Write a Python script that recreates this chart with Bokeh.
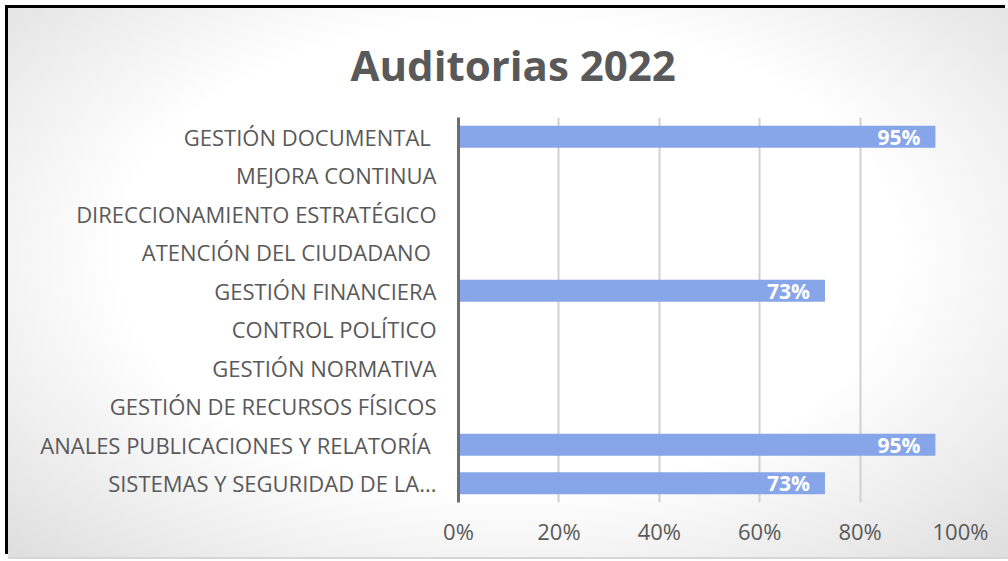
from bokeh.plotting import figure
from bokeh.models import (FactorRange, Range1d, ColumnDataSource, LabelSet, Title,
                          NumeralTickFormatter, FixedTicker)
from bokeh.core.properties import value
from bokeh.embed import file_html
from bokeh.resources import INLINE

# ---- data (top-to-bottom order as shown) ----
categories = [
    "GESTIÓN DOCUMENTAL ",
    "MEJORA CONTINUA",
    "DIRECCIONAMIENTO ESTRATÉGICO",
    "ATENCIÓN DEL CIUDADANO ",
    "GESTIÓN FINANCIERA",
    "CONTROL POLÍTICO",
    "GESTIÓN NORMATIVA",
    "GESTIÓN DE RECURSOS FÍSICOS",
    "ANALES PUBLICACIONES Y RELATORÍA ",
    "SISTEMAS Y SEGURIDAD DE LA...",
]
values = [0.95, 0, 0, 0, 0.73, 0, 0, 0, 0.95, 0.73]
x_ticks = [0, 0.2, 0.4, 0.6, 0.8, 1.0]
title_text = "Auditorias 2022"

FONT = "Open Sans"
GRAY = "#595959"

W, H = 1000, 549
ML, MR, MT, MB = 450, 48, 108, 55

factors = list(reversed(categories))

p = figure(
    width=W, height=H,
    y_range=FactorRange(*factors, range_padding=0),
    x_range=Range1d(0, 1.0),
    output_backend="svg", toolbar_location=None,
    min_border_left=ML, min_border_right=MR,
    min_border_top=MT, min_border_bottom=MB,
)
p.styles = {
    "margin-left": "8px",
    "margin-top": "8px",
    "box-shadow": "-3px -3px 0 0 #000000, 0 2px 0 0 #d6d6d6",
    "background": "radial-gradient(ellipse at 50% 45%, #ffffff 55%, #dedede 100%)",
}
p.border_fill_color = None
p.background_fill_color = None
p.outline_line_color = None

# title
p.title = None
p.add_layout(Title(text=title_text, text_font=FONT, text_font_size="42px",
                   text_font_style="bold", text_color=GRAY,
                   align="left", offset=-108, standoff=50), "above")

# bars
bar_src = ColumnDataSource(dict(cat=categories, val=values))
p.hbar(y="cat", right="val", left=0, height=0.57, source=bar_src,
       fill_color="#87a5e9", line_color=None)

# data labels
lab_cats = [c for c, v in zip(categories, values) if v > 0]
lab_vals = [v for v in values if v > 0]
lab_txt = [f"{round(v * 100)}%" for v in lab_vals]
lab_src = ColumnDataSource(dict(cat=lab_cats, val=lab_vals, txt=lab_txt))
p.add_layout(LabelSet(x="val", y="cat", text="txt", source=lab_src,
                      x_offset=-15, text_align="right", text_baseline="middle",
                      text_color="white", text_font=value(FONT),
                      text_font_style="bold", text_font_size="21px"))

# x axis
p.xaxis.ticker = FixedTicker(ticks=x_ticks)
p.xaxis.formatter = NumeralTickFormatter(format="0%")
p.xaxis.axis_line_color = None
p.xaxis.major_tick_line_color = None
p.xaxis.minor_tick_line_color = None
p.xaxis.major_label_standoff = 7
p.xaxis.major_label_text_font = FONT
p.xaxis.major_label_text_font_size = "22px"
p.xaxis.major_label_text_color = GRAY

# y axis
p.yaxis.axis_line_color = "#6e6e6e"
p.yaxis.axis_line_width = 3
p.yaxis.major_tick_line_color = None
p.yaxis.minor_tick_line_color = None
p.yaxis.major_label_standoff = 16
p.yaxis.major_label_text_font = FONT
p.yaxis.major_label_text_font_size = "22px"
p.yaxis.major_label_text_color = GRAY

# grid
p.xgrid.ticker = FixedTicker(ticks=x_ticks)
p.xgrid.grid_line_color = "#d0d0d0"
p.xgrid.grid_line_width = 2
p.ygrid.grid_line_color = None

open("out.html", "w").write(file_html(p, INLINE))
